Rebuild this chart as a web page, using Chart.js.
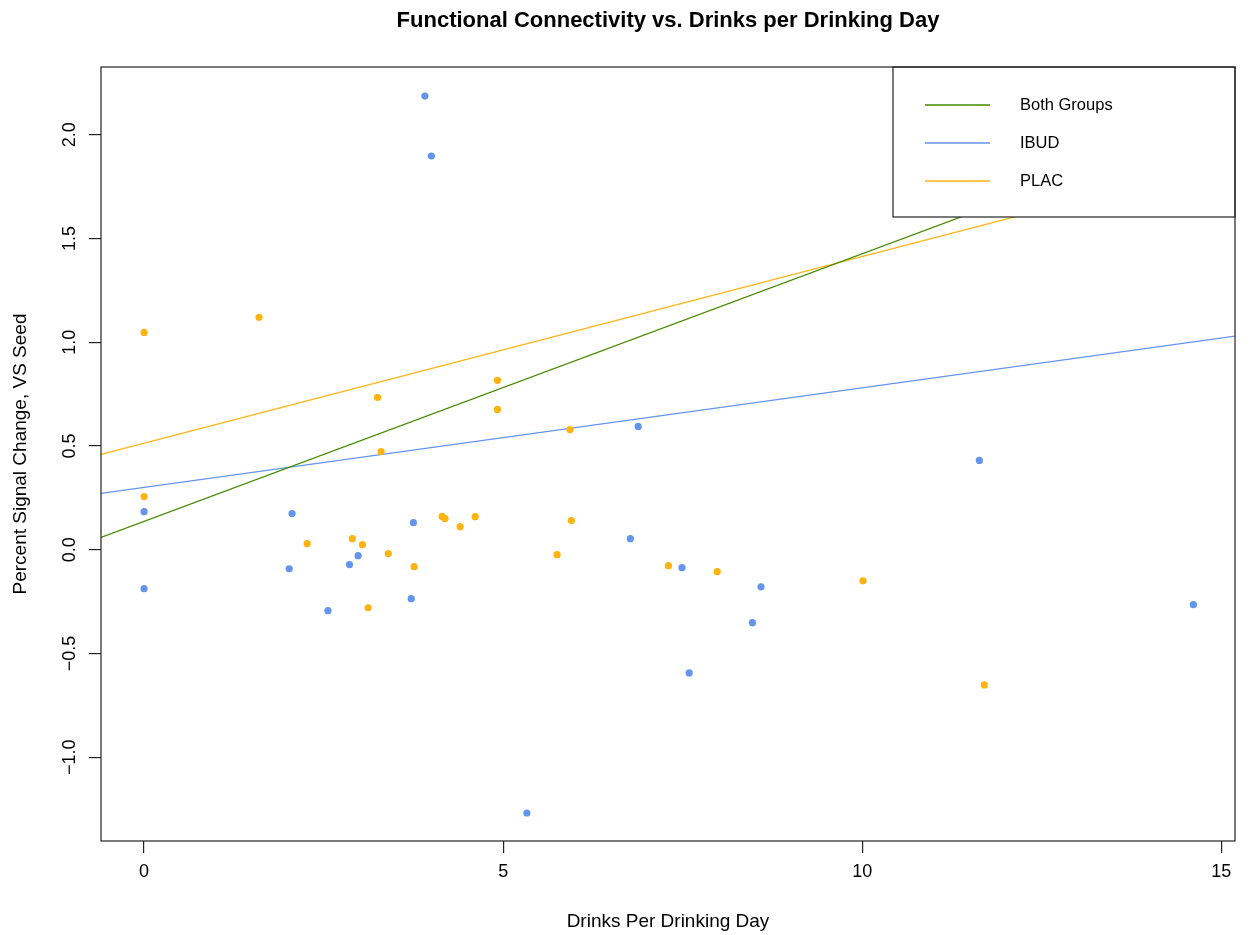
<!DOCTYPE html>
<html>
<head>
<meta charset="utf-8">
<script src="https://cdn.jsdelivr.net/npm/chart.js@4"></script>
<style>
  body { margin: 0; background: #fff; }
  #wrap { width: 1249px; height: 935px; }
</style>
</head>
<body>
<div id="wrap"><canvas id="scatterChart" width="1249" height="935"></canvas></div>
<script>
// IBUD group
const ibudX = [0, 0, 2.02, 2.06, 2.56, 2.86, 2.98, 3.75, 3.72, 3.91, 4.0, 5.33, 6.88, 6.77, 7.49, 7.59, 8.47, 8.59, 11.63, 14.61];
const ibudY = [0.183, -0.188, -0.092, 0.174, -0.294, -0.072, -0.029, 0.13, -0.236, 2.186, 1.897, -1.269, 0.594, 0.053, -0.087, -0.594, -0.352, -0.179, 0.43, -0.265];

// PLAC group
const placX = [0, 0, 1.6, 2.27, 2.9, 3.04, 3.12, 3.25, 3.3, 3.4, 3.76, 4.15, 4.19, 4.4, 4.61, 4.92, 4.92, 5.93, 5.95, 5.75, 7.3, 7.98, 10.01, 11.7];
const placY = [1.047, 0.256, 1.12, 0.029, 0.053, 0.024, -0.28, 0.734, 0.473, -0.019, -0.082, 0.16, 0.15, 0.111, 0.159, 0.816, 0.676, 0.579, 0.14, -0.024, -0.077, -0.106, -0.15, -0.652];

// regression lines: [intercept, slope]
const fitBoth = [0.136, 0.129];
const fitIbud = [0.30, 0.048];
const fitPlac = [0.513, 0.090];

const fitNames = ["Both Groups", "IBUD", "PLAC"];
const xTicks = [0, 5, 10, 15];
const yTicks = [-1.0, -0.5, 0.0, 0.5, 1.0, 1.5, 2.0];
const xRange = [-0.6, 15.19];
const yRange = [-1.404, 2.326];

const green = "#458B00";
const blue = "#6495ED";
const orange = "#FFB30F";
const font = "'Liberation Sans', Arial, sans-serif";

function pts(xs, ys) {
  return xs.map((x, i) => ({ x: x, y: ys[i] }));
}
function fitLine(f) {
  return xRange.map(x => ({ x: x, y: f[0] + f[1] * x }));
}

// box, titles, rotated y labels and legend drawn like base R
const rStyle = {
  id: "rStyle",
  afterDatasetsDraw(chart) {
    const ctx = chart.ctx;
    const a = chart.chartArea;
    const ys = chart.scales.y;
    ctx.save();

    // legend box
    const lx = 893, ly = a.top, lw = a.right - 893, lh = 150;
    ctx.fillStyle = "#fff";
    ctx.fillRect(lx, ly, lw, lh);
    ctx.strokeStyle = "#222";
    ctx.lineWidth = 1.2;
    ctx.strokeRect(lx, ly, lw, lh);
    const cols = [green, blue, orange];
    ctx.font = "16.5px " + font;
    ctx.textBaseline = "middle";
    ctx.textAlign = "left";
    fitNames.forEach((n, i) => {
      const yy = ly + 38 + i * 38;
      ctx.strokeStyle = cols[i];
      ctx.lineWidth = 1.3;
      ctx.beginPath();
      ctx.moveTo(925, yy);
      ctx.lineTo(990, yy);
      ctx.stroke();
      ctx.fillStyle = "#000";
      ctx.fillText(n, 1020, yy);
    });

    // plot box
    ctx.strokeStyle = "#222";
    ctx.lineWidth = 1.2;
    ctx.strokeRect(a.left, a.top, a.right - a.left, a.bottom - a.top);

    // y tick labels, rotated
    ctx.fillStyle = "#000";
    ctx.font = "18px " + font;
    ctx.textAlign = "center";
    ctx.textBaseline = "middle";
    yTicks.forEach(v => {
      const py = ys.getPixelForValue(v);
      ctx.save();
      ctx.translate(70, py);
      ctx.rotate(-Math.PI / 2);
      ctx.fillText(v.toFixed(1).replace("-", "\u2212"), 0, 0);
      ctx.restore();
    });

    // titles
    ctx.font = "bold 22px " + font;
    ctx.fillText("Functional Connectivity vs. Drinks per Drinking Day", (a.left + a.right) / 2, 21);
    ctx.font = "19px " + font;
    ctx.fillText("Drinks Per Drinking Day", (a.left + a.right) / 2, 922);
    ctx.save();
    ctx.translate(21, (a.top + a.bottom) / 2);
    ctx.rotate(-Math.PI / 2);
    ctx.fillText("Percent Signal Change, VS Seed", 0, 0);
    ctx.restore();

    ctx.restore();
  }
};

new Chart(document.getElementById("scatterChart").getContext("2d"), {
  type: "scatter",
  data: {
    datasets: [
      { label: "IBUD", data: pts(ibudX, ibudY), backgroundColor: blue, borderWidth: 0, pointRadius: 3.6 },
      { label: "PLAC", data: pts(placX, placY), backgroundColor: orange, borderWidth: 0, pointRadius: 3.6 },
      { type: "line", label: "Both Groups", data: fitLine(fitBoth), borderColor: green, borderWidth: 1.3, pointRadius: 0, fill: false },
      { type: "line", label: "IBUD fit", data: fitLine(fitIbud), borderColor: blue, borderWidth: 1.3, pointRadius: 0, fill: false },
      { type: "line", label: "PLAC fit", data: fitLine(fitPlac), borderColor: orange, borderWidth: 1.3, pointRadius: 0, fill: false },
    ],
  },
  options: {
    responsive: false,
    animation: false,
    layout: { padding: { top: 67, right: 14, left: 0, bottom: 0 } },
    plugins: {
      legend: { display: false },
      title: { display: false },
      tooltip: { enabled: false },
    },
    scales: {
      x: {
        type: "linear",
        min: xRange[0],
        max: xRange[1],
        afterBuildTicks: s => { s.ticks = xTicks.map(v => ({ value: v })); },
        afterFit: s => { s.height = 94; },
        grid: { drawOnChartArea: false, tickLength: 12, color: "#222", lineWidth: 1.2 },
        border: { display: false },
        ticks: { color: "#000", font: { family: font, size: 18 }, padding: 8, maxRotation: 0 },
      },
      y: {
        type: "linear",
        min: yRange[0],
        max: yRange[1],
        afterBuildTicks: s => { s.ticks = yTicks.map(v => ({ value: v })); },
        afterFit: s => { s.width = 101; },
        grid: { drawOnChartArea: false, tickLength: 12, color: "#222", lineWidth: 1.2 },
        border: { display: false },
        ticks: { display: false },
      },
    },
  },
  plugins: [rStyle],
});
</script>
</body>
</html>
